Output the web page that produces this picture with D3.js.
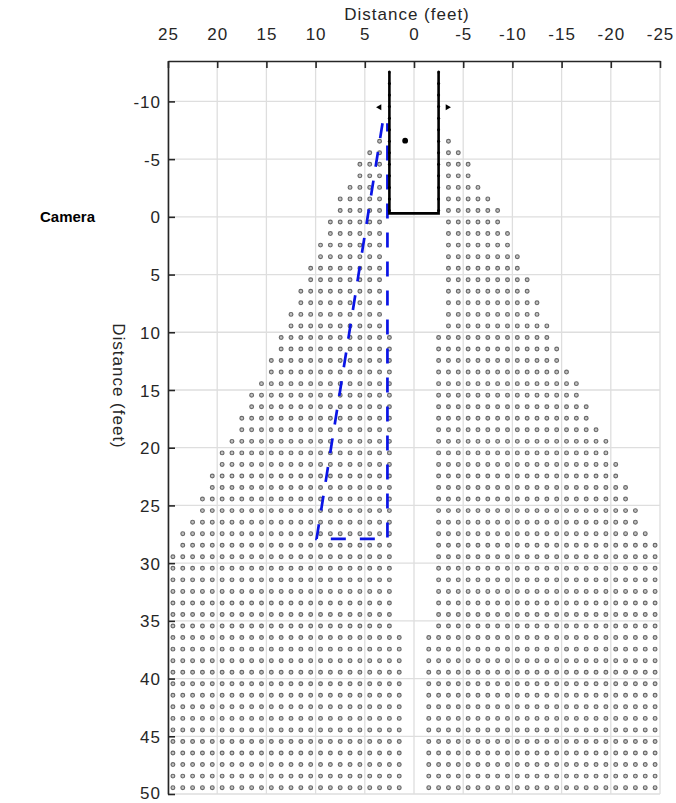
<!DOCTYPE html>
<html>
<head>
<meta charset="utf-8">
<script src="https://cdn.jsdelivr.net/npm/d3@7"></script>
<style>
  body { margin: 0; background: #fff; }
  svg { display: block; font-family: "Liberation Sans", Arial, sans-serif; }
</style>
</head>
<body>
<div id="chart"></div>
<script>
// x ticks (feet, axis reversed) and y ticks
const xTicks = [25, 20, 15, 10, 5, 0, -5, -10, -15, -20, -25]
const yTicks = [-10, -5, 0, 5, 10, 15, 20, 25, 30, 35, 40, 45, 50]

// grid rows of sample points (y, feet)
const rowY = [-6.55, -5.55, -4.55, -3.55, -2.55, -1.55, -0.55, 0.45, 1.45, 2.45,
              3.45, 4.45, 5.45, 6.45, 7.45, 8.45, 9.45, 10.45, 11.45, 12.45,
              13.45, 14.45, 15.45, 16.45, 17.45, 18.45, 19.45, 20.45, 21.45, 22.45,
              23.45, 24.45, 25.45, 26.45, 27.45, 28.45, 29.45, 30.45, 31.45, 32.45,
              33.45, 34.45, 35.45, 36.45, 37.45, 38.45, 39.45, 40.45, 41.45, 42.45,
              43.45, 44.45, 45.45, 46.45, 47.45, 48.45, 49.45]

// outermost point on each side per row (positive = left side)
const leftOuter = [3.5, 4.5, 5.5, 5.5, 6.5, 7.5, 7.5, 8.5, 8.5, 9.5,
                   9.5, 10.5, 10.5, 11.5, 11.5, 12.5, 12.5, 13.5, 13.5, 14.5,
                   14.5, 15.5, 16.5, 16.5, 17.5, 17.5, 18.5, 19.5, 19.5, 20.5,
                   20.5, 21.5, 21.5, 22.5, 23.5, 23.5, 24.5, 24.5, 24.5, 24.5,
                   24.5, 24.5, 24.5, 24.5, 24.5, 24.5, 24.5, 24.5, 24.5, 24.5,
                   24.5, 24.5, 24.5, 24.5, 24.5, 24.5, 24.5]
const rightOuter = [3.5, 4.5, 5.5, 5.5, 6.5, 7.5, 8.5, 8.5, 9.5, 9.5,
                    10.5, 10.5, 11.5, 11.5, 12.5, 12.5, 13.5, 13.5, 14.5, 14.5,
                    15.5, 16.5, 16.5, 17.5, 17.5, 18.5, 19.5, 19.5, 20.5, 20.5,
                    21.5, 21.5, 22.5, 22.5, 23.5, 24.5, 24.5, 24.5, 24.5, 24.5,
                    24.5, 24.5, 24.5, 24.5, 24.5, 24.5, 24.5, 24.5, 24.5, 24.5,
                    24.5, 24.5, 24.5, 24.5, 24.5, 24.5, 24.5]
// innermost point per row (same both sides)
const inner = [3.5, 3.5, 3.5, 3.5, 3.5, 3.5, 3.5, 3.5, 3.5, 3.5,
               3.5, 3.5, 3.5, 3.5, 3.5, 3.5, 3.5, 2.5, 2.5, 2.5,
               2.5, 2.5, 2.5, 2.5, 2.5, 2.5, 2.5, 2.5, 2.5, 2.5,
               2.5, 2.5, 2.5, 2.5, 2.5, 2.5, 2.5, 2.5, 2.5, 2.5,
               2.5, 2.5, 2.5, 1.5, 1.5, 1.5, 1.5, 1.5, 1.5, 1.5,
               1.5, 1.5, 1.5, 1.5, 1.5, 1.5, 1.5]

// camera box (black) with its small markers, and the blue dashed region
const boxX = [2.5, 2.5, -2.5, -2.5]
const boxY = [-12.5, -0.3, -0.3, -12.5]
const boxMarkY = [-12.55, -11.55, -10.55, -9.55, -8.55, -7.55, -6.55, -5.55, -4.55, -3.55, -2.55, -1.55, -0.55]
const zoneX = [3.2, 9.9, 2.7, 2.7]
const zoneY = [-8.1, 27.9, 27.9, -8.1]
// markers
const dotPoint = [0.9, -6.6]
const arrowLeft = [3.5, -9.5]
const arrowRight = [-3.4, -9.5]

function buildPoints() {
    let pts = []
    rowY.forEach((y, i) => {
        for (let x = inner[i]; x <= leftOuter[i]; x++) pts.push([x, y])
        for (let x = inner[i]; x <= rightOuter[i]; x++) pts.push([-x, y])
    })
    return pts
}

function draw() {
    var width = 676
    var height = 803
    var margin = {left: 168, right: 16, top: 61, bottom: 9}

    var x = d3.scaleLinear().domain([25, -25]).range([margin.left, width - margin.right])
    var y = d3.scaleLinear().domain([-13.5, 50]).range([margin.top, height - margin.bottom])

    var svg = d3.select("#chart").append("svg")
        .attr("width", width)
        .attr("height", height)

    // grid
    svg.append("g").selectAll("line.gx")
        .data(xTicks).enter().append("line")
        .attr("x1", d => x(d)).attr("x2", d => x(d))
        .attr("y1", y(-13.5)).attr("y2", y(50))
        .attr("stroke", "#dedede").attr("stroke-width", 1.3)
    svg.append("g").selectAll("line.gy")
        .data(yTicks).enter().append("line")
        .attr("x1", x(25)).attr("x2", x(-25))
        .attr("y1", d => y(d)).attr("y2", d => y(d))
        .attr("stroke", "#dedede").attr("stroke-width", 1.3)

    // sample points
    svg.append("g").selectAll("circle")
        .data(buildPoints()).enter().append("circle")
        .attr("cx", d => x(d[0]))
        .attr("cy", d => y(d[1]))
        .attr("r", 1.9)
        .attr("fill", "#c4c4c4")
        .attr("stroke", "#686868")
        .attr("stroke-width", 1.15)

    // blue dashed zone
    var line = d3.line().x(d => x(d[0])).y(d => y(d[1]))
    svg.append("path")
        .attr("d", line(zoneX.map((v, i) => [v, zoneY[i]])))
        .attr("fill", "none")
        .attr("stroke", "#0a14e6")
        .attr("stroke-width", 2.7)
        .attr("stroke-dasharray", "15,14")

    // camera box
    svg.append("path")
        .attr("d", line(boxX.map((v, i) => [v, boxY[i]])))
        .attr("fill", "none")
        .attr("stroke", "#000")
        .attr("stroke-width", 2.6)
    svg.append("g").selectAll("circle")
        .data(boxMarkY.flatMap(v => [[2.5, v], [-2.5, v]])).enter().append("circle")
        .attr("cx", d => x(d[0])).attr("cy", d => y(d[1]))
        .attr("r", 1.5).attr("fill", "#000")

    svg.append("circle")
        .attr("cx", x(dotPoint[0])).attr("cy", y(dotPoint[1]))
        .attr("r", 2.9).attr("fill", "#000")

    var tri = d3.symbol().type(d3.symbolTriangle).size(16)
    svg.append("path").attr("d", tri())
        .attr("transform", `translate(${x(arrowLeft[0])},${y(arrowLeft[1])}) rotate(-90)`)
        .attr("fill", "#000")
    svg.append("path").attr("d", tri())
        .attr("transform", `translate(${x(arrowRight[0])},${y(arrowRight[1])}) rotate(90)`)
        .attr("fill", "#000")

    // axes (top and left)
    var xAxis = d3.axisTop(x).tickValues(xTicks).tickFormat(d => String(d))
        .tickSizeInner(-7).tickSizeOuter(0).tickPadding(21)
    var gx = svg.append("g").attr("transform", `translate(0,${margin.top})`).call(xAxis)
    var yAxis = d3.axisLeft(y).tickValues(yTicks).tickFormat(d => String(d))
        .tickSizeInner(-7).tickSizeOuter(0).tickPadding(7)
    var gy = svg.append("g").attr("transform", `translate(${margin.left},0)`).call(yAxis)

    ;[gx, gy].forEach(g => {
        g.selectAll(".domain").attr("stroke", "#262626").attr("stroke-width", 1.6)
        g.selectAll(".tick line").attr("stroke", "#262626").attr("stroke-width", 1.6)
        g.selectAll(".tick text").attr("fill", "#262626")
            .style("font-size", "17px")
            .style("letter-spacing", "1px")
            .style("font-family", "Liberation Sans, Arial, sans-serif")
    })
    gy.selectAll(".tick text").attr("dy", d => d === 50 ? "0.25em" : "0.36em")

    svg.append("text")
        .attr("x", 407).attr("y", 20)
        .attr("text-anchor", "middle")
        .attr("fill", "#262626")
        .style("font-size", "17px")
        .style("letter-spacing", "1px")
        .text("Distance (feet)")

    svg.append("text")
        .attr("transform", `translate(113,386) rotate(90)`)
        .attr("text-anchor", "middle")
        .attr("fill", "#262626")
        .style("font-size", "17px")
        .style("letter-spacing", "1px")
        .text("Distance (feet)")

    svg.append("text")
        .attr("x", 40).attr("y", 222)
        .attr("fill", "#000")
        .style("font-size", "15px")
        .style("font-weight", "bold")
        .text("Camera")
}

draw()
</script>
</body>
</html>
